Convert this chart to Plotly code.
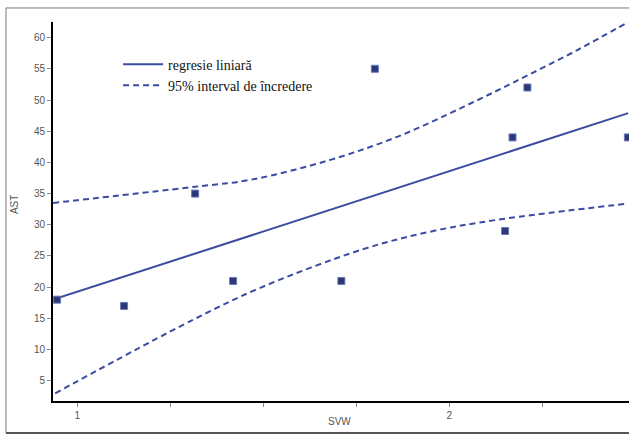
import plotly.graph_objects as go

# Observed data
svw = [0.946, 1.126, 1.317, 1.419, 1.710, 1.800, 2.150, 2.170, 2.210, 2.480]
ast = [18, 17, 35, 21, 21, 55, 29, 44, 52, 44]

# Regression line
fit_x = [0.935, 2.481]
fit_y = [18.0, 47.9]

# 95% confidence band
upper_x = [0.935, 1.317, 1.465, 1.680, 1.860, 2.038, 2.172, 2.344, 2.481]
upper_y = [33.5, 36.1, 37.2, 40.4, 44.1, 48.9, 52.8, 58.0, 62.5]
lower_x = [0.941, 1.312, 1.492, 1.769, 1.949, 2.129, 2.481]
lower_y = [3.0, 14.8, 19.9, 26.1, 28.9, 30.8, 33.4]

y_ticks = [5, 10, 15, 20, 25, 30, 35, 40, 45, 50, 55, 60]
x_ticks = [1, 1.25, 1.5, 1.75, 2, 2.25]
x_tick_text = ["1", "", "", "", "2", ""]

line_color = "#3b4ca0"
tick_font = dict(family="Liberation Sans Narrow, Liberation Sans, Arial Narrow, sans-serif", size=10, color="#555555")

fig = go.Figure()
fig.add_trace(go.Scatter(x=fit_x, y=fit_y, mode="lines", name="regresie liniară",
                         line=dict(color=line_color, width=2)))
fig.add_trace(go.Scatter(x=upper_x, y=upper_y, mode="lines", name="95% interval de încredere",
                         line=dict(color=line_color, width=2, dash="6px,4px", shape="spline"),
                         legendgroup="ci"))
fig.add_trace(go.Scatter(x=lower_x, y=lower_y, mode="lines", name="95% interval de încredere",
                         line=dict(color=line_color, width=2, dash="6px,4px", shape="spline"),
                         legendgroup="ci", showlegend=False))
fig.add_trace(go.Scatter(x=svw, y=ast, mode="markers", showlegend=False,
                         marker=dict(symbol="square", size=7, color="#2b3778",
                                     line=dict(color="#6b78b8", width=1))))

fig.update_layout(
    width=629, height=436,
    margin=dict(l=53, r=0, t=22, b=35),
    paper_bgcolor="white", plot_bgcolor="white",
    showlegend=True,
    legend=dict(x=0.113, y=0.93, xanchor="left", yanchor="top",
                bgcolor="rgba(255,255,255,0)",
                font=dict(family="Liberation Serif, Times New Roman, serif", size=14, color="#111111"),
                tracegroupgap=0, itemwidth=40),
    xaxis=dict(range=[0.935, 2.483], tickvals=x_ticks, ticktext=x_tick_text,
               ticks="outside", ticklen=4, tickcolor="#888888",
               showline=True, linecolor="black", linewidth=2, showgrid=False,
               zeroline=False, tickfont=tick_font),
    yaxis=dict(range=[1.76, 62.5], tickvals=y_ticks,
               ticks="outside", ticklen=4, tickcolor="#888888",
               showline=True, linecolor="black", linewidth=2, showgrid=False,
               zeroline=False, tickfont=tick_font),
    annotations=[
        dict(text="AST", x=-0.0677, y=0.517, xref="paper", yref="paper",
             xanchor="center", yanchor="middle",
             textangle=-90, showarrow=False, font=tick_font),
        dict(text="SVW", x=0.498, y=-0.055, xref="paper", yref="paper",
             xanchor="center", yanchor="middle",
             showarrow=False, font=tick_font),
    ],
    shapes=[
        dict(type="line", xref="paper", yref="paper", x0=-0.0816, x1=1.01, y0=1.037, y1=1.037,
             line=dict(color="#777777", width=1)),
        dict(type="line", xref="paper", yref="paper", x0=-0.0816, x1=-0.0816, y0=1.037, y1=-0.0844,
             line=dict(color="#777777", width=1)),
        dict(type="line", xref="paper", yref="paper", x0=-0.0816, x1=1.01, y0=-0.0844, y1=-0.0844,
             line=dict(color="#555555", width=2)),
    ],
)

fig.write_html("out.html", config={"displayModeBar": False},
               post_script="document.body.style.margin='0';document.body.style.overflow='hidden';")
